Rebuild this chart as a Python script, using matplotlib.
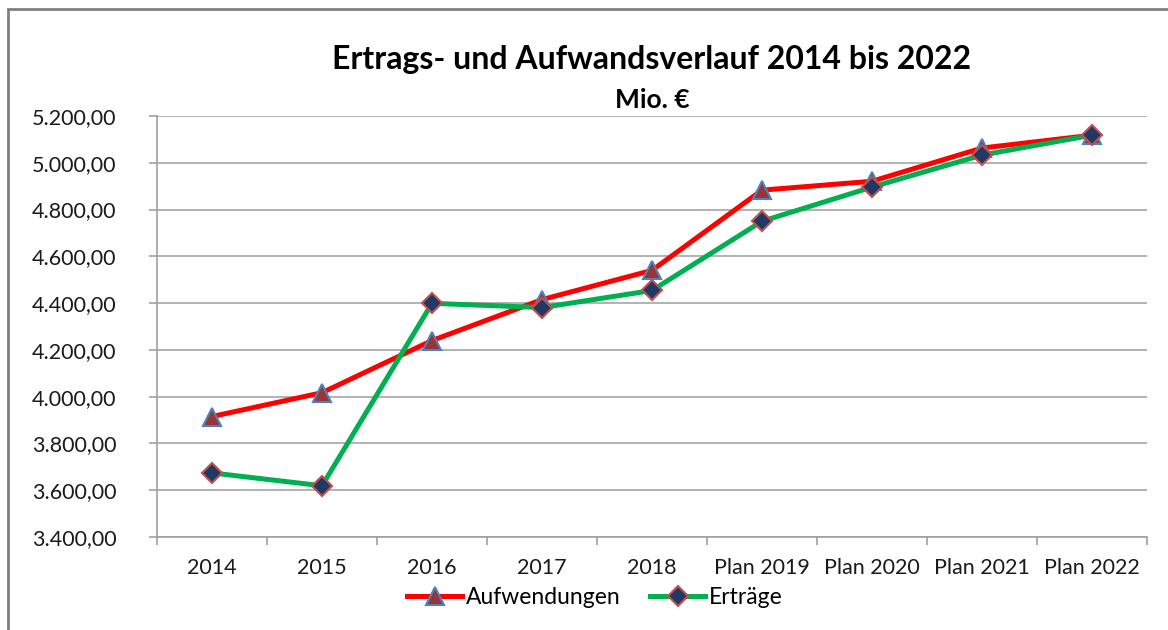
import numpy as np
import matplotlib.pyplot as plt
from matplotlib.patches import Rectangle
from matplotlib.ticker import FuncFormatter

# data (Mio. EUR)
jahre = ['2014', '2015', '2016', '2017', '2018',
         'Plan 2019', 'Plan 2020', 'Plan 2021', 'Plan 2022']
aufwendungen = [3915, 4017, 4240, 4415, 4540, 4883, 4921, 5063, 5118]
ertraege = [3674, 3619, 4399, 4381, 4454, 4750, 4896, 5033, 5118]

plt.rcParams['font.family'] = ['Lato', 'DejaVu Sans']

fig = plt.figure(figsize=(11.68, 6.30), dpi=100)
ax = fig.add_axes([157 / 1168, 1 - 537 / 630, 990 / 1168, 421 / 630])

# outer chart border (top and left visible, rest cut off)
fig.patches.append(Rectangle((8 / 1168, -0.1), 1.2, 1 - 9 / 630 + 0.1,
                             transform=fig.transFigure, fill=False,
                             edgecolor='#808080', linewidth=2))

x = np.arange(len(jahre))
ax.plot(x, aufwendungen, color='#FF0000', linewidth=3.6, marker='^',
        markersize=13, markerfacecolor='#953735', markeredgecolor='#4F81BD',
        markeredgewidth=1.5, label='Aufwendungen', zorder=3)
ax.plot(x, ertraege, color='#00B050', linewidth=3.6, marker='D',
        markersize=10, markerfacecolor='#1F3864', markeredgecolor='#C0504D',
        markeredgewidth=1.5, label='Erträge', zorder=4)

ax.set_xlim(-0.5, len(jahre) - 0.5)
ax.set_ylim(3400, 5200)
ax.set_yticks(np.arange(3400, 5201, 200))


def de_fmt(v, pos):
    s = f'{v:,.2f}'
    return s.replace(',', 'X').replace('.', ',').replace('X', '.')


ax.yaxis.set_major_formatter(FuncFormatter(de_fmt))
ax.set_xticks(x)
ax.set_xticklabels(jahre)
ax.set_xticks(np.arange(-0.5, len(jahre)), minor=True)
ax.tick_params(axis='x', which='major', length=0, pad=15, labelsize=15.5,
               labelcolor='#1a1a1a')
ax.tick_params(axis='x', which='minor', length=6, color='#A0A0A0', width=1.2)
ax.tick_params(axis='y', length=6, color='#A0A0A0', width=1.2, pad=23,
               labelsize=15.5, labelcolor='#1a1a1a')

ax.grid(axis='y', color='#A6A6A6', linewidth=1.2)
ax.set_axisbelow(True)
for side in ['top', 'right']:
    ax.spines[side].set_visible(False)
for side in ['left', 'bottom']:
    ax.spines[side].set_color('#A0A0A0')
    ax.spines[side].set_linewidth(1.2)

fig.text(652 / 1168, 1 - 60 / 630, 'Ertrags- und Aufwandsverlauf 2014 bis 2022',
         ha='center', va='center', fontsize=23, fontweight='bold')
fig.text(652 / 1168, 1 - 100 / 630, 'Mio. €', ha='center', va='center',
         fontsize=19, fontweight='bold')

fig.legend(loc='center', bbox_to_anchor=(595 / 1168, 1 - 598 / 630), ncol=2,
           frameon=False, fontsize=16.5, numpoints=1, handlelength=2.4,
           handletextpad=0.15, columnspacing=1.3)

plt.savefig('out.png', dpi=100)
